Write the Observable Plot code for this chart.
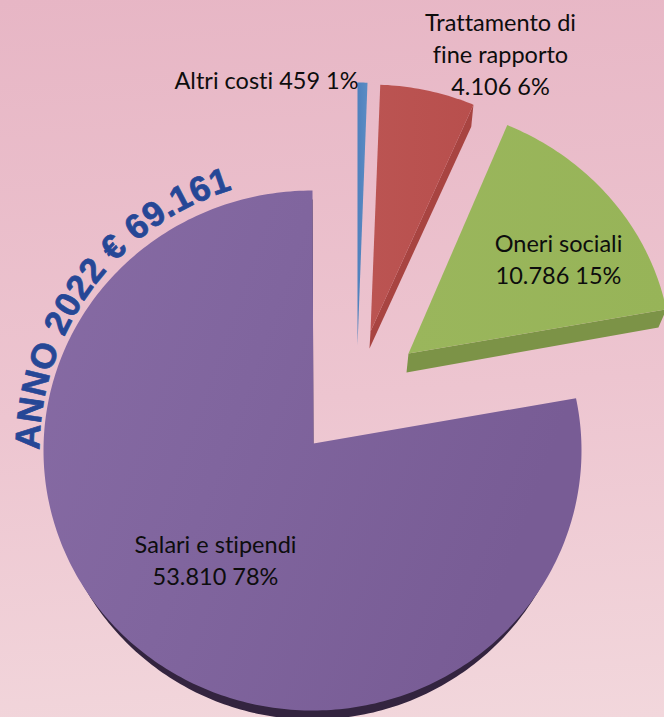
<!DOCTYPE html>
<html><head><meta charset="utf-8">
<style>html,body{margin:0;padding:0;background:#eec8d2}svg{display:block}svg text{font-variant-ligatures:none}</style>
<script src="https://cdn.jsdelivr.net/npm/d3@7"></script>
<script src="https://cdn.jsdelivr.net/npm/@observablehq/plot@0.6"></script>
</head><body><div id="chart"></div>
<script>
const categories = ["Altri costi", "Trattamento di\nfine rapporto", "Oneri sociali", "Salari e stipendi"];
const values = [459, 4106, 10786, 53810];
const percents = [1, 6, 15, 78];
const titleText = "ANNO 2022 € 69.161";

const total = d3.sum(values);
const cum = d3.cumsum(values);
const angleAt = i => (i < 0 ? 0 : cum[i] / total * 2 * Math.PI);
const rad = d => d * Math.PI / 180;
const fmt = d3.formatLocale({decimal: ",", thousands: ".", grouping: [3], currency: ["€", ""]}).format(",d");

// Exploded-slice geometry of the 3D view: apex and ellipse of each top face
const redTop = {i: 1, ax: 370, ay: 331, cx: 369, cy: 322, rx: 258, ry: 238, fill: "url(#red)"};
const redBase = {i: 1, ax: 369, ay: 348, cx: 368, cy: 344, rx: 255, ry: 238};
const greenTop = {i: 2, ax: 408, ay: 353, cx: 396, cy: 358, rx: 275, ry: 255, da1: rad(-1), fill: "url(#green)"};
const greenBase = {i: 2, ax: 406, ay: 372, cx: 391, cy: 376, rx: 272, ry: 255, da1: rad(-1)};
const blueTop = {i: 0, ax: 357, ay: 345, cx: 357, cy: 342, rx: 240, ry: 260, fill: "url(#blue)"};
const purpleBase = {i: 3, ax: 313, ay: 452, cx: 312, cy: 459, rx: 262, ry: 260, da0: rad(-1.5), fill: "#33243f"};
const purpleTop = {i: 3, ax: 313, ay: 443, cx: 312, cy: 450, rx: 269, ry: 260, da0: rad(-1.5), fill: "url(#purple)"};

const arcPoint = (f, a) => ({x: f.cx + f.rx * Math.sin(a), y: f.cy - f.ry * Math.cos(a)});
const endOf = f => angleAt(f.i) + (f.da1 || 0);
function wedge(f) {
  const a0 = angleAt(f.i - 1) + (f.da0 || 0), a1 = endOf(f), n = Math.ceil((a1 - a0) * 60) + 2;
  const pts = [{x: f.ax, y: f.ay}];
  for (let k = 0; k <= n; ++k) pts.push(arcPoint(f, a0 + (a1 - a0) * k / n));
  pts.push({x: f.ax, y: f.ay});
  return pts;
}
// Side wall under a slice's clockwise radial edge
const side = (top, base) => [
  {x: top.ax, y: top.ay}, arcPoint(top, endOf(top)),
  arcPoint(base, endOf(base)), {x: base.ax, y: base.ay}, {x: top.ax, y: top.ay}
];

const labelAnchors = [[266, 78], [500, 52], [558, 257], [215, 558]];
const labels = categories.map((c, i) => ({
  text: `${c}${i === 0 ? " " : "\n"}${fmt(values[i])} ${percents[i]}%`,
  x: labelAnchors[i][0], y: labelAnchors[i][1]
}));

// Curved title: characters laid along an ellipse outside the big slice
const titleFontSize = 35, titleFont = `bold ${titleFontSize}px "Liberation Sans"`;
const ctx = document.createElement("canvas").getContext("2d");
ctx.font = titleFont;
const tc = {x: 312, y: 450, r: 273, start: -90, end: -17};
const chars = Array.from(titleText);
const widths = chars.map(c => ctx.measureText(c).width);
const textW = d3.sum(widths);
let run = 0;
const titleChars = chars.map((c, i) => {
  const mid = run + widths[i] / 2; run += widths[i];
  const deg = tc.start + (tc.end - tc.start) * mid / textW;
  const a = rad(deg);
  return {c, x: tc.x + tc.r * Math.sin(a), y: tc.y - tc.r * Math.cos(a), rot: deg};
});

const grad = (id, x2, y2, stops) => `<linearGradient id="${id}" x1="0" y1="0" x2="${x2}" y2="${y2}">` +
  stops.map(([o, c]) => `<stop offset="${o}" stop-color="${c}"/>`).join("") + `</linearGradient>`;
const defs = () => {
  const d = d3.create("svg:defs");
  d.html(
    grad("purple", 1, 0.35, [[0, "#876ba4"], [0.45, "#80659e"], [1, "#785c95"]]) +
    grad("green", 1, 0, [[0, "#9ab65c"], [1, "#97b458"]]) +
    grad("red", 1, 0, [[0, "#bb5452"], [1, "#b84f4d"]]) +
    grad("blue", 1, 0, [[0, "#4f81bd"], [1, "#5b8cc4"]])
  );
  return d.node();
};
const poly = (pts, fill) => Plot.line(pts, {x: "x", y: "y", fill, stroke: "none", curve: "linear"});

const plot = Plot.plot({
  width: 664, height: 717,
  margin: 0,
  x: {type: "identity", axis: null},
  y: {type: "identity", axis: null},
  style: {background: "linear-gradient(176deg,#e7b6c5 0%,#edc5d0 55%,#f2d7dc 100%)"},
  marks: [
    defs,
    poly(wedge(blueTop), blueTop.fill),
    poly(side(redTop, redBase), "#a84441"),
    poly(wedge(redTop), redTop.fill),
    poly(side(greenTop, greenBase), "#7c9347"),
    poly(wedge(greenTop), greenTop.fill),
    poly(wedge(purpleBase), purpleBase.fill),
    poly(wedge(purpleTop), purpleTop.fill),
    Plot.text(labels, {
      x: "x", y: "y", text: "text", fill: "#0d0d0d",
      fontFamily: "Lato", fontSize: 23.5, lineHeight: 1.36, textAnchor: "middle"
    }),
    Plot.text(titleChars, {
      x: "x", y: "y", text: "c", rotate: "rot", fill: "#264796",
      stroke: "#264796", strokeWidth: 0.7,
      fontFamily: "Liberation Sans", fontWeight: "bold", fontSize: titleFontSize,
      textAnchor: "middle", lineAnchor: "bottom"
    })
  ]
});
document.getElementById("chart").appendChild(plot);
</script></body></html>
